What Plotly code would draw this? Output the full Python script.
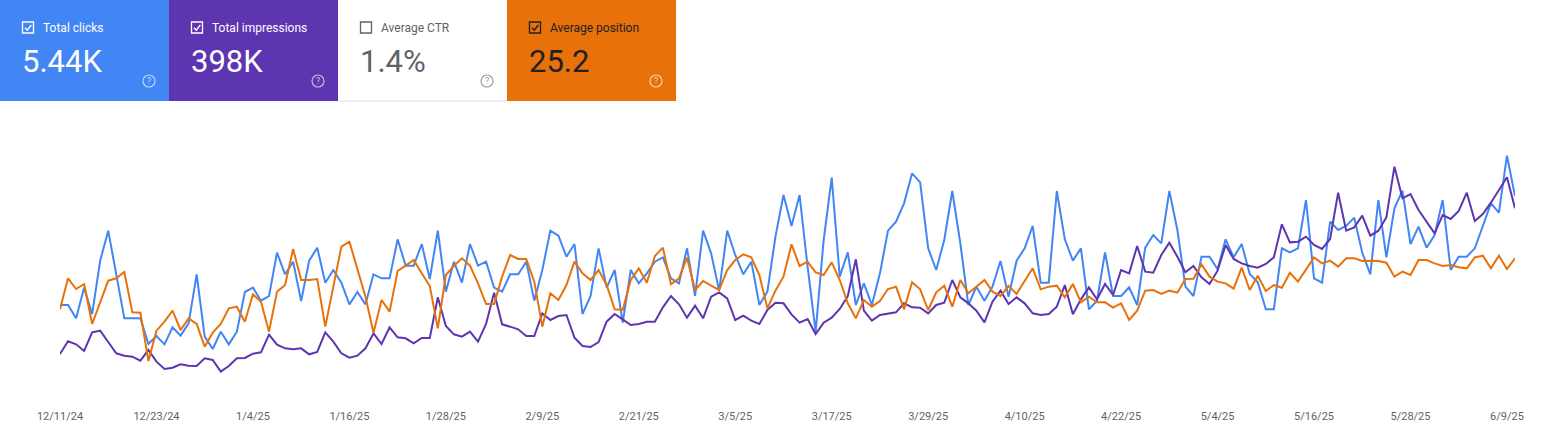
import pandas as pd
import plotly.graph_objects as go

# daily values, 12/11/24 .. 6/10/25
clicks = [
    20.5, 20.5, 16.5, 25.7, 17.8, 33.8, 42.8, 30, 16.5, 16.5,
    16.5, 8.8, 11.2, 8.7, 13.8, 11.3, 15, 29.7, 11, 7.3,
    12.5, 8.7, 12.5, 24.4, 25.7, 21.8, 23.2, 36.2, 29.7, 33.5,
    21.7, 33.8, 37.7, 27.2, 31, 27.2, 20.7, 24.4, 20.7, 29.7,
    28.5, 28.5, 40.2, 32.3, 32.3, 38.8, 28.3, 42.8, 24.5, 33.5,
    27.2, 38.8, 32.3, 33.5, 25.7, 24.5, 29.7, 29.7, 33.5, 21.8,
    31, 42.8, 41.3, 35, 38.8, 17.8, 23.2, 37.5, 25.7, 31,
    15.2, 31, 27, 30, 33.5, 34.8, 28.5, 27, 37.5, 23.2,
    42.8, 36, 24.8, 42.8, 35.5, 29.7, 33.5, 20.5, 24.5, 41,
    53.5, 44.2, 53.5, 32, 12.5, 40, 58.7, 29, 36.3, 20.5,
    27, 20.5, 30, 42.8, 45.5, 51, 60, 57.3, 37.5, 31,
    40, 54.7, 39, 20.5, 26, 21.8, 26, 33.7, 23,
    33.8, 37.5, 44.2, 27.2, 27.2, 54.7, 40.2, 33.8, 37.5, 19.2,
    21.8, 36.3, 23.2, 23.2, 25.8, 20.5, 37.7, 41.5, 39, 54.7,
    43, 26, 23.2, 35, 35, 31.2, 40.2, 34.8, 38.8, 29.8,
    27.3, 19.2, 19.2, 37.5, 36.3, 37.5, 52, 28.5, 27.2, 45.5,
    43, 44.2, 46.7, 36.2, 29.7, 52, 34.8, 49.5, 54.8, 38.8,
    44, 37.7, 41.5, 52, 31, 35, 35, 37.5, 44.2, 51,
    48.2, 65.3, 53.2,
]

impressions = [
    780, 1160, 1070, 870, 1430, 1480, 1140, 800, 730, 700,
    580, 900, 550, 330, 370, 470, 430, 420, 650, 600,
    250, 420, 650, 660, 790, 830, 1360, 1060, 950, 920,
    950, 770, 840, 1430, 1150, 800, 670, 730, 950, 1400,
    1080, 1580, 1280, 1250, 1100, 1260, 1260, 2480, 1620, 1370,
    1300, 1450, 1150, 1680, 2620, 1670, 1600, 1520, 1320, 1320,
    2000, 1800, 1920, 1950, 1270, 1020, 990, 1140, 1750, 1980,
    1820, 1650, 1680, 1750, 1750, 2180, 2520, 2270, 1870, 2230,
    1850, 2500, 2630, 2450, 1800, 1930, 1780, 1680, 2100, 2320,
    2300, 1970, 1720, 1830, 1380, 1720, 1870, 2130, 2520, 3620,
    2080, 1780, 1950, 2000, 2030, 2300, 2180, 2170, 2000, 2250,
    2320, 3000, 2480, 2300, 2080, 1730, 2350, 2680, 2280,
    2480, 2300, 2000, 1950, 1980, 2200, 2850, 1970, 2420, 2780,
    2420, 2880, 2550, 3300, 3200, 4020, 3250, 3220, 3750, 4120,
    3700, 3230, 3420, 3080, 2880, 3280, 4050, 3630, 3500, 3420,
    3370, 3480, 3680, 4670, 4130, 4150, 4300, 4050, 3930, 4230,
    5620, 4480, 4580, 4930, 4330, 4480, 4880, 6400, 5450, 5580,
    5100, 4750, 4400, 4950, 4830, 5070, 5620, 4770, 4980, 5320,
    5700, 6080, 5150,
]

position = [
    29.4, 24.75, 26.35, 25.6, 31.6, 28.25, 25.1, 24.75, 23.8, 29.85,
    29.9, 37.15, 32.6, 31.25, 29.6, 32.5, 30.75, 31.6, 35, 32.9,
    31.6, 29.25, 29, 31.25, 27.15, 28.25, 32.75, 26.75, 25.75, 20.35,
    25, 25, 24.85, 32, 26, 20, 19.25, 23.25, 27.5, 32.9,
    28, 29.75, 23.65, 22.85, 22, 24, 25.9, 32.25, 24.25, 22.9,
    21.75, 22.85, 25.5, 28.6, 28.6, 24.5, 21.25, 21.85, 21.85, 25.25,
    32, 27, 28, 25.75, 22.25, 24, 25, 23.5, 25.75, 29.4,
    29.5, 25, 23.25, 25.4, 21.4, 20.15, 25.65, 24.75, 21.65, 26.5,
    25.15, 25.85, 26.5, 23.5, 22, 21.15, 21.6, 24.25, 29.25, 26.6,
    24.5, 19.65, 22.9, 22.25, 23.85, 24.25, 22.35, 25, 28.5, 30.75,
    28, 29, 28.15, 26.35, 26, 29.4, 25.35, 26.4, 29.5, 26.85,
    25.85, 29, 25, 27, 26, 25, 26.75, 27.4, 25.9,
    27.1, 25.15, 23.25, 26.4, 26, 25.85, 27.6, 25.6, 28.35, 27.5,
    28.35, 28.35, 29.15, 28.5, 31, 29.6, 26.6, 26.5, 27.1, 26.6,
    26.9, 24.85, 24.8, 22.65, 24.5, 25.25, 25.5, 26.3, 23.15, 26.5,
    24.35, 26.65, 25.75, 26.15, 23.9, 25.25, 23.4, 21.6, 22.5, 22.1,
    23, 21.75, 21.75, 22.15, 22.1, 22.15, 22.4, 24.5, 23.75, 24.25,
    22, 22, 22.5, 22.9, 22.75, 23.1, 23.25, 21.6, 21.35, 23.25,
    21.35, 23.35, 21.75,
]

tick_labels = ["12/11/24", "12/23/24", "1/4/25", "1/16/25", "1/28/25", "2/9/25",
               "2/21/25", "3/5/25", "3/17/25", "3/29/25", "4/10/25", "4/22/25",
               "5/4/25", "5/16/25", "5/28/25", "6/9/25"]

card_labels = ["Total clicks", "Total impressions", "Average CTR", "Average position"]
card_values = ["5.44K", "398K", "1.4%", "25.2"]
card_checked = [True, True, False, True]

BLUE = "#4285f4"
PURPLE = "#5e35b1"
ORANGE = "#e8710a"

dates = pd.date_range("2024-12-11", periods=len(clicks), freq="D")
tick_dates = [pd.Timestamp(t) for t in pd.to_datetime(tick_labels, format="%m/%d/%y")]

W, H = 1556, 446
L, R, T, B = 60, 41, 140, 46


# helpers: screen pixels -> paper coords
def px(x):
    return (x - L) / (W - L - R)


def py(y):
    return (H - B - y) / (H - T - B)


fig = go.Figure()
fig.add_trace(go.Scatter(x=dates, y=clicks, name="Clicks", mode="lines",
                         line=dict(color=BLUE, width=2), yaxis="y"))
fig.add_trace(go.Scatter(x=dates, y=impressions, name="Impressions", mode="lines",
                         line=dict(color=PURPLE, width=2), yaxis="y2"))
fig.add_trace(go.Scatter(x=dates, y=position, name="Position", mode="lines",
                         line=dict(color=ORANGE, width=2), yaxis="y3"))

shapes = []
annotations = []
card_w = 169
bgs = [BLUE, PURPLE, "white", ORANGE]
fgs = ["white", "white", "#5f6368", "#202124"]
box_cols = ["white", "white", "#5f6368", "#202124"]
help_cols = ["rgba(255,255,255,0.65)", "rgba(255,255,255,0.65)", "#9aa0a6", "rgba(255,255,255,0.65)"]

for i, lab in enumerate(card_labels):
    x0 = i * card_w
    shapes.append(dict(type="rect", xref="paper", yref="paper", layer="below",
                       x0=px(x0), x1=px(x0 + card_w), y0=py(101), y1=py(0),
                       fillcolor=bgs[i], line=dict(width=0)))
    # checkbox
    shapes.append(dict(type="rect", xref="paper", yref="paper",
                       x0=px(x0 + 22.5), x1=px(x0 + 33.5), y0=py(33), y1=py(22),
                       line=dict(color=box_cols[i], width=1.3)))
    if card_checked[i]:
        shapes.append(dict(type="path", xref="paper", yref="paper",
                           path=f"M {px(x0 + 25)} {py(27.8)} L {px(x0 + 27.3)} {py(30.2)} "
                                f"L {px(x0 + 31.3)} {py(25)}",
                           line=dict(color=box_cols[i], width=1.4)))
    annotations.append(dict(xref="paper", yref="paper", x=px(x0 + 40.5), y=py(27.5),
                            text=lab, showarrow=False, xanchor="left", yanchor="middle",
                            font=dict(family="Roboto", size=12, color=fgs[i])))
    annotations.append(dict(xref="paper", yref="paper", x=px(x0 + 20), y=py(62),
                            text=card_values[i], showarrow=False, xanchor="left",
                            yanchor="middle",
                            font=dict(family="Roboto", size=31, color=fgs[i])))
    # help icon
    shapes.append(dict(type="circle", xref="paper", yref="paper",
                       x0=px(x0 + 143), x1=px(x0 + 155), y0=py(87), y1=py(75),
                       line=dict(color=help_cols[i], width=1.2)))
    annotations.append(dict(xref="paper", yref="paper", x=px(x0 + 149), y=py(81),
                            text="?", showarrow=False, xanchor="center", yanchor="middle",
                            font=dict(family="Roboto", size=9, color=help_cols[i])))

# thin border under the white card
shapes.append(dict(type="line", xref="paper", yref="paper",
                   x0=px(2 * card_w), x1=px(3 * card_w), y0=py(101), y1=py(101),
                   line=dict(color="#dadce0", width=1)))

fig.update_layout(
    width=W, height=H,
    margin=dict(l=L, r=R, t=T, b=B),
    paper_bgcolor="white", plot_bgcolor="white",
    showlegend=False,
    shapes=shapes,
    annotations=annotations,
    xaxis=dict(type="date", range=[dates[0], dates[-1]], showgrid=False, zeroline=False,
               showline=False, tickvals=tick_dates, ticktext=tick_labels,
               ticks="outside", ticklen=6, tickcolor="rgba(0,0,0,0)",
               tickfont=dict(family="Roboto", size=11, color="#5f6368")),
    yaxis=dict(range=[-8, 70], visible=False),
    yaxis2=dict(range=[-600, 7200], visible=False, overlaying="y"),
    yaxis3=dict(range=[43, 4], visible=False, overlaying="y"),
)

# page body has a default margin; drop it so the figure sits at the window corner
fig.write_html("out.html", config={"displayModeBar": False},
               post_script="document.body.style.margin='0';")
